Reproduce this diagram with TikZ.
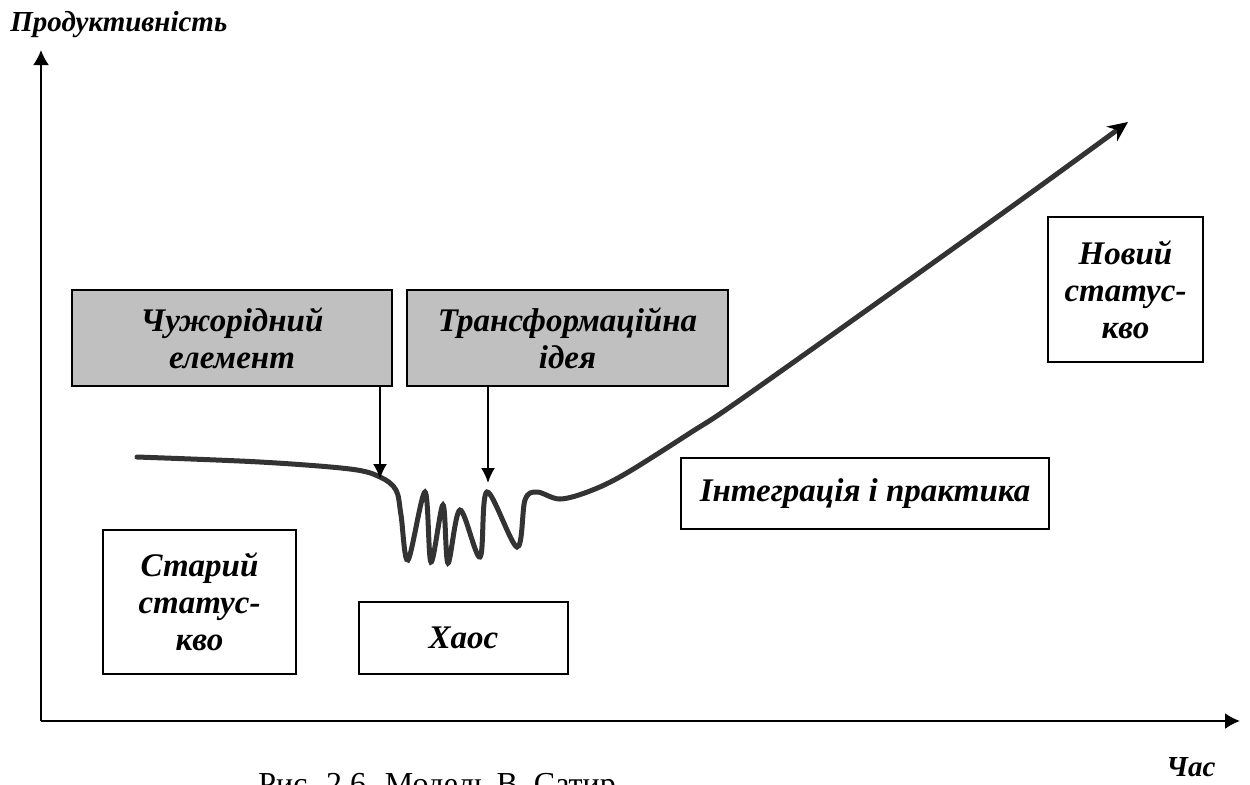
\documentclass[tikz,border=0pt]{standalone}
\usepackage{fontspec}
\setmainfont{Liberation Serif}
\usepackage{tikz}
\usetikzlibrary{arrows.meta}
\definecolor{fgray}{RGB}{192, 192, 192}
\definecolor{curvegray}{RGB}{51, 51, 51}

\begin{document}
\begin{tikzpicture}[x=0.5pt, y=-0.5pt]
                \useasboundingbox (0,0) rectangle (1250,784);

                \tikzstyle{axis}=[line width=1pt, -{Latex[length=7.5pt,width=8pt]}]
                \coordinate (O) at (41,721);
                \coordinate (ytip) at (41,50);
                \coordinate (xtip) at (1240,721);
                \draw[axis] (O) -- (ytip);
                \draw[axis] (O) -- (xtip);

                \tikzstyle{lbl}=[inner sep=0pt, anchor=base west, font=\fontsize{14.5}{16}\selectfont\bfseries\itshape]
                \node[lbl] (ylabel) at (10,31) {Продуктивність};
                \node[lbl] (xlabel) at (1166,776) {Час};
                \node[inner sep=0pt, anchor=base west, font=\fontsize{16}{18}\selectfont] (caption) at (258,794) {Рис. 2.6. Модель В. Сатир};

                \tikzstyle{box}=[rectangle, draw, line width=1pt, inner sep=0pt, align=center, font=\fontsize{16.5}{18.5}\selectfont\bfseries\itshape]
                \node[box, fill=fgray, minimum width=160pt, minimum height=48pt] (alien) at (232,338) {Чужорідний \\ елемент};
                \node[box, fill=fgray, minimum width=160.5pt, minimum height=48pt] (idea) at (567.5,338) {Трансформаційна \\ ідея};
                \node[box, minimum width=184pt, minimum height=35.5pt] (integ) at (865,493.5) {Інтеграція і практика};
                \node[box, minimum width=96.5pt, minimum height=72pt] (old) at (199.5,602) {Старий \\ статус- \\ кво};
                \node[box, minimum width=104.5pt, minimum height=36pt] (chaos) at (463.5,638) {Хаос};
                \node[box, minimum width=77.5pt, minimum height=72.5pt] (new) at (1125.5,289.5) {Новий \\ статус- \\ кво};

                \draw[curvegray, line width=2.5pt, line cap=round, -{Stealth[length=10pt,width=9pt,black]}]
                    plot[smooth, tension=0.55] coordinates {(137,457) (260,462) (350,469) (380,477) (396,490) (401,515) (408,560) (425,492) (431,562) (443,505) (448,563) (460,510) (480,557) (487,492) (517,547) (525,500) (537,492) (560,499) (590,491) (625,474) (690,433) (750,393) (1000,215) (1128,122)};

                \coordinate (hit1) at (380,479);
                \coordinate (hit2) at (488,483);
                \tikzstyle{bind}=[line width=1pt, -{Latex[length=7.5pt,width=7pt]}]
                \draw[bind] (alien.south -| hit1) to (hit1);
                \draw[bind] (idea.south -| hit2) to (hit2);
            \end{tikzpicture}
\end{document}
